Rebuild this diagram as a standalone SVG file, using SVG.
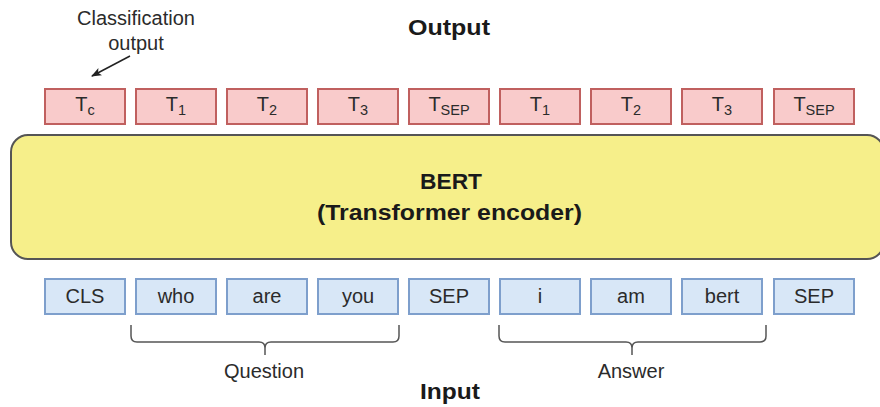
<svg xmlns="http://www.w3.org/2000/svg" width="880" height="407" viewBox="0 0 880 407">
  <defs>
    <marker id="arrow" viewBox="0 0 10 10" refX="9" refY="5" markerWidth="7" markerHeight="7" orient="auto-start-reverse">
      <path d="M0,1 L10,5 L0,9 L2.5,5 Z" fill="#222"/>
    </marker>
  </defs>
  <style>
    text { font-family: "Liberation Sans", Arial, sans-serif; fill: #2b2b2b; }
    .out rect { fill: #f9cbcb; stroke: #c0605f; stroke-width: 2; }
    .in rect { fill: #d8e7f7; stroke: #7e9fcc; stroke-width: 2; }
    .tok { font-size: 20px; text-anchor: middle; }
    .sub { font-size: 14.5px; }
    .title { font-size: 22px; font-weight: bold; text-anchor: middle; fill: #1a1a1a; }
    .label { font-size: 20px; text-anchor: middle; }
    .brace { fill: none; stroke: #555; stroke-width: 1.5; }
  </style>

  <rect width="880" height="407" fill="#ffffff"/>

  <!-- headings -->
  <text class="title" x="449" y="35" textLength="82" lengthAdjust="spacingAndGlyphs">Output</text>
  <text class="title" x="450" y="399" textLength="60" lengthAdjust="spacingAndGlyphs">Input</text>
  <text class="label" x="136" y="25">Classification</text>
  <text class="label" x="136" y="50">output</text>

  <!-- output tokens -->
  <g id="out-tc" class="out"><rect x="45" y="89" width="80" height="35"/><text class="tok" x="85" y="111">T<tspan class="sub" dy="4">c</tspan></text></g>
  <g id="out-t1a" class="out"><rect x="136" y="89" width="80" height="35"/><text class="tok" x="176" y="111">T<tspan class="sub" dy="4">1</tspan></text></g>
  <g id="out-t2a" class="out"><rect x="227" y="89" width="80" height="35"/><text class="tok" x="267" y="111">T<tspan class="sub" dy="4">2</tspan></text></g>
  <g id="out-t3a" class="out"><rect x="318" y="89" width="80" height="35"/><text class="tok" x="358" y="111">T<tspan class="sub" dy="4">3</tspan></text></g>
  <g id="out-sepa" class="out"><rect x="409" y="89" width="80" height="35"/><text class="tok" x="449" y="111">T<tspan class="sub" dy="4">SEP</tspan></text></g>
  <g id="out-t1b" class="out"><rect x="500" y="89" width="80" height="35"/><text class="tok" x="540" y="111">T<tspan class="sub" dy="4">1</tspan></text></g>
  <g id="out-t2b" class="out"><rect x="591" y="89" width="80" height="35"/><text class="tok" x="631" y="111">T<tspan class="sub" dy="4">2</tspan></text></g>
  <g id="out-t3b" class="out"><rect x="682" y="89" width="80" height="35"/><text class="tok" x="722" y="111">T<tspan class="sub" dy="4">3</tspan></text></g>
  <g id="out-sepb" class="out"><rect x="774" y="89" width="80" height="35"/><text class="tok" x="814" y="111">T<tspan class="sub" dy="4">SEP</tspan></text></g>

  <!-- encoder -->
  <g id="bert">
    <rect x="11" y="135" width="873" height="124" rx="17" fill="#f6ef8a" stroke="#555" stroke-width="2"/>
    <text class="title" x="451" y="189" textLength="62" lengthAdjust="spacingAndGlyphs">BERT</text>
    <text class="title" x="449.5" y="220" textLength="265" lengthAdjust="spacingAndGlyphs">(Transformer encoder)</text>
  </g>

  <!-- input tokens -->
  <g id="in-cls" class="in"><rect x="45" y="279" width="80" height="35"/><text class="tok" x="85" y="303">CLS</text></g>
  <g id="in-who" class="in"><rect x="136" y="279" width="80" height="35"/><text class="tok" x="176" y="303">who</text></g>
  <g id="in-are" class="in"><rect x="227" y="279" width="80" height="35"/><text class="tok" x="267" y="303">are</text></g>
  <g id="in-you" class="in"><rect x="318" y="279" width="80" height="35"/><text class="tok" x="358" y="303">you</text></g>
  <g id="in-sepa" class="in"><rect x="409" y="279" width="80" height="35"/><text class="tok" x="449" y="303">SEP</text></g>
  <g id="in-i" class="in"><rect x="500" y="279" width="80" height="35"/><text class="tok" x="540" y="303">i</text></g>
  <g id="in-am" class="in"><rect x="591" y="279" width="80" height="35"/><text class="tok" x="631" y="303">am</text></g>
  <g id="in-bert" class="in"><rect x="682" y="279" width="80" height="35"/><text class="tok" x="722" y="303">bert</text></g>
  <g id="in-sepb" class="in"><rect x="774" y="279" width="80" height="35"/><text class="tok" x="814" y="303">SEP</text></g>

  <!-- segment braces -->
  <g id="question">
    <path class="brace" d="M131,325 V336 Q131,342 137,342 H259 Q265,342 265,348 V355 M265,348 Q265,342 271,342 H393 Q399,342 399,336 V325"/>
    <text class="label" x="264" y="378">Question</text>
  </g>
  <g id="answer">
    <path class="brace" d="M499,325 V336 Q499,342 505,342 H626 Q632,342 632,348 V355 M632,348 Q632,342 638,342 H760 Q766,342 766,336 V325"/>
    <text class="label" x="631" y="378">Answer</text>
  </g>

  <!-- connectors -->
  <g id="connectors">
    <line x1="130" y1="56" x2="92" y2="76" stroke="#222" stroke-width="1.5" marker-end="url(#arrow)"/>
  </g>
</svg>
